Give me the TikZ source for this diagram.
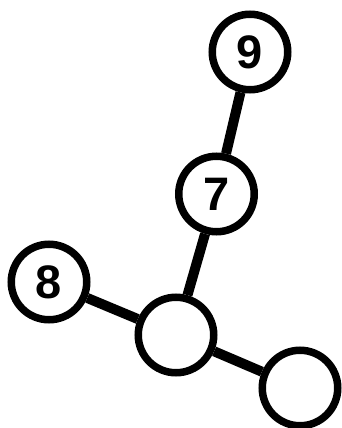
\documentclass[tikz,border=0pt]{standalone}
\usepackage{fontspec}
\setmainfont{Liberation Sans}
\begin{document}
\begin{tikzpicture}[x=1pt,y=-1pt,
  vert/.style={circle,draw=black,fill=white,line width=7.5pt,minimum size=75.5pt,inner sep=0pt,font=\fontsize{47}{47}\selectfont\bfseries},
  edge/.style={line width=10pt}]
\useasboundingbox (0,0) rectangle (341,428);
\node[vert] (n9) at (250,52) {9};
\node[vert] (n7) at (216.5,194) {7};
\node[vert] (n8) at (49,282) {8};
\node[vert] (a) at (176,335) {};
\node[vert] (b) at (300,388) {};
\draw[edge] (n9) -- (n7);
\draw[edge] (n7) -- (a);
\draw[edge] (n8) -- (a);
\draw[edge] (a) -- (b);
\end{tikzpicture}
\end{document}
